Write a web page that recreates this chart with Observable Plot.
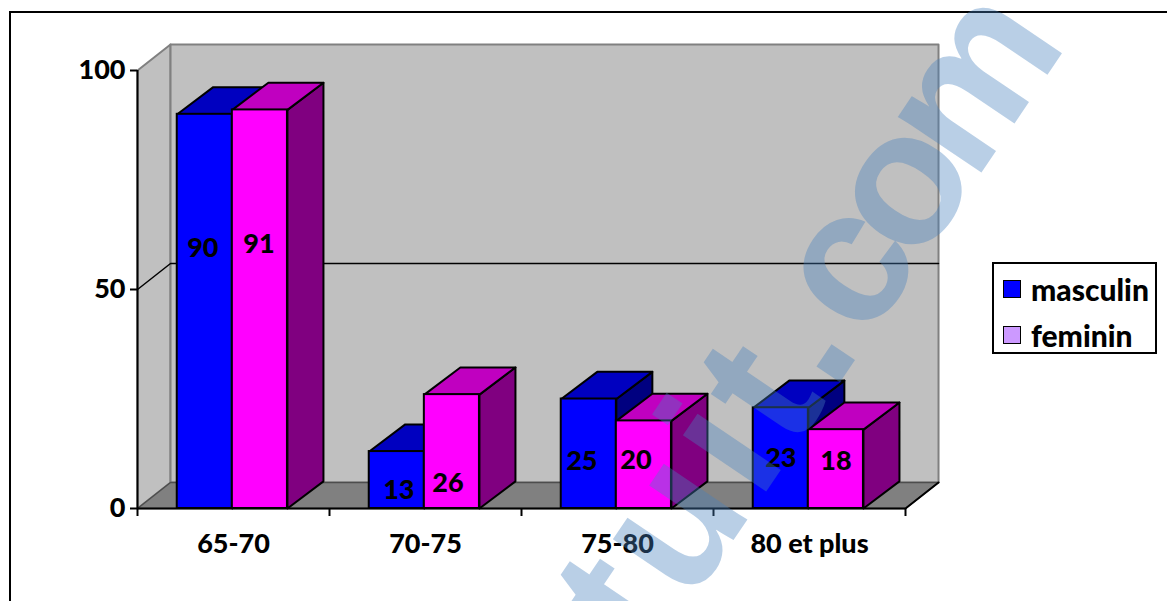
<!DOCTYPE html>
<html>
<head>
<meta charset="utf-8">
<script src="https://cdn.jsdelivr.net/npm/d3@7"></script>
<script src="https://cdn.jsdelivr.net/npm/@observablehq/plot@0.6"></script>
<style>
  html, body { margin: 0; padding: 0; background: #fff; }
  #page { position: relative; width: 1167px; height: 601px; overflow: hidden; font-family: Lato, sans-serif; font-weight: 900; color: #000; }
  #sheet { position: absolute; left: 9px; top: 11px; right: -4px; bottom: -4px; border: 2px solid #000; box-sizing: border-box; }
  #chart, #stamp { position: absolute; left: 0; top: 0; }
  #stamp { pointer-events: none; }
  #legend { position: absolute; left: 992px; top: 262px; width: 165px; height: 92px; box-sizing: border-box; border: 2px solid #000; background: #fff; }
  .row { position: absolute; left: 9px; display: flex; align-items: center; gap: 10px; font-size: 30px; line-height: 30px; height: 30px; }
  .swatch { width: 18px; height: 18px; box-sizing: border-box; border: 1.5px solid #000; flex: none; }
</style>
</head>
<body>
<div id="page">
  <div id="sheet"></div>
  <div id="chart"></div>
  <div id="legend"></div>
  <svg id="stamp" width="1167" height="601">
    <text transform="translate(1060 56) rotate(-56)" text-anchor="end" font-family="Liberation Sans" font-weight="700" font-size="190" fill="rgb(70,130,190)" fill-opacity="0.38"><tspan letter-spacing="8">tuit.</tspan><tspan letter-spacing="-15">com</tspan></text>
  </svg>
</div>
<script>
// Age groups and the two series
const categories = ["65-70", "70-75", "75-80", "80 et plus"];
const masculin = [90, 13, 25, 23];
const feminin = [91, 26, 20, 18];
const seriesNames = ["masculin", "feminin"];

// Oblique projection depth, in scale units (x in categories, y in percent)
const wallDepth = {x: 0.172, y: 5.94};
const barDepth = {x: 0.1875, y: 6.2};
const barStart = 0.207;
const barWidth = 0.287;

// Small shifts of each value label from the middle of its bar, in pixels
const labelShift = {
  masculin: [[-2, -63], [2, 10], [-7, 8], [0, 0]],
  feminin: [[-1, -65], [-4, 32], [-8, -4], [0, -8]]
};

const faceColors = {
  masculin: {front: "#0000ff", top: "#0000c0", side: "#000080"},
  feminin: {front: "#ff00ff", top: "#c000c0", side: "#800080"}
};
const legendColors = {masculin: "#0000ff", feminin: "#cc99ff"};

const bars = categories.flatMap((category, i) => [
  {series: "masculin", i, value: masculin[i], x1: i + barStart, x2: i + barStart + barWidth},
  {series: "feminin", i, value: feminin[i], x1: i + barStart + barWidth, x2: i + barStart + 2 * barWidth}
]);

// A closed polygon in data units, one record per corner
const polygon = (id, corners) => corners.map(([x, y]) => ({id, x, y}));
const face = (data, options) => Plot.line(data, {x: "x", y: "y", z: "id", curve: "linear-closed", ...options});

const d = wallDepth;
const leftWall = polygon("left", [[0, 0], [d.x, d.y], [d.x, 100 + d.y], [0, 100]]);
const backWall = polygon("back", [[d.x, d.y], [4 + d.x, d.y], [4 + d.x, 100 + d.y], [d.x, 100 + d.y]]);
const floor = polygon("floor", [[0, 0], [4, 0], [4 + d.x, d.y], [d.x, d.y]]);

const seriesMarks = seriesNames.flatMap((name) => {
  const rows = bars.filter((b) => b.series === name);
  const b = barDepth;
  const side = rows.flatMap((r) => polygon(r.i, [[r.x2, 0], [r.x2 + b.x, b.y], [r.x2 + b.x, r.value + b.y], [r.x2, r.value]]));
  const top = rows.flatMap((r) => polygon(r.i, [[r.x1, r.value], [r.x2, r.value], [r.x2 + b.x, r.value + b.y], [r.x1 + b.x, r.value + b.y]]));
  return [
    face(side, {fill: faceColors[name].side, stroke: "#000", strokeWidth: 2}),
    face(top, {fill: faceColors[name].top, stroke: "#000", strokeWidth: 2}),
    Plot.rect(rows, {x1: "x1", x2: "x2", y1: 0, y2: "value", fill: faceColors[name].front, stroke: "#000", strokeWidth: 2})
  ];
});

const labelMarks = bars.map((r) => {
  const [dx, dy] = labelShift[r.series][r.i];
  return Plot.text([r], {
    x: (t) => (t.x1 + t.x2) / 2,
    y: (t) => t.value / 2,
    text: (t) => String(t.value),
    dx, dy,
    fontSize: 27, fontWeight: 900, fill: "#000"
  });
});

const chart = Plot.plot({
  width: 1167,
  height: 601,
  marginLeft: 137,
  marginRight: 262,
  marginTop: 70,
  marginBottom: 93,
  style: {background: "transparent", fontFamily: "Lato, sans-serif", overflow: "visible"},
  x: {domain: [0, 4], axis: null},
  y: {domain: [0, 100], axis: null},
  marks: [
    face(leftWall, {fill: "#c0c0c0", stroke: "#808080", strokeWidth: 2}),
    face(backWall, {fill: "#c0c0c0", stroke: "#808080", strokeWidth: 2}),
    face(floor, {fill: "#808080", stroke: "#4d4d4d", strokeWidth: 1.5}),
    // Gridline at 50 runs along the left wall, then across the back wall
    Plot.line([{x: 0, y: 50}, {x: d.x, y: 50 + d.y}, {x: 4 + d.x, y: 50 + d.y}], {x: "x", y: "y", stroke: "#000", strokeWidth: 1.5}),
    Plot.line([{x: 4, y: 0}, {x: 4 + d.x, y: d.y}], {x: "x", y: "y", stroke: "#000", strokeWidth: 2}),
    ...seriesMarks,
    Plot.ruleY([0], {x1: 0, x2: 4, stroke: "#000", strokeWidth: 2}),
    Plot.ruleX([0], {y1: 0, y2: 100, stroke: "#000", strokeWidth: 2}),
    Plot.axisY({ticks: [0, 50, 100], tickSize: 7, tickPadding: 5, strokeWidth: 2, fontSize: 27, fontWeight: 900, fill: "#000", label: null}),
    Plot.axisX({ticks: [0, 1, 2, 3, 4], tickSize: 8, strokeWidth: 2, tickFormat: () => "", label: null}),
    Plot.axisX({ticks: categories.map((c, i) => i + 0.5), tickSize: 0, tickPadding: 25, tickFormat: (t) => categories[Math.floor(t)], fontSize: 27, fontWeight: 900, fill: "#000", label: null}),
    ...labelMarks
  ]
});
document.getElementById("chart").append(chart);

// Legend box to the right of the plot
const legend = document.getElementById("legend");
seriesNames.forEach((name, k) => {
  const row = document.createElement("div");
  row.className = "row";
  row.style.top = (10 + k * 46) + "px";
  const swatch = document.createElement("div");
  swatch.className = "swatch";
  swatch.style.background = legendColors[name];
  const label = document.createElement("span");
  label.textContent = name;
  row.append(swatch, label);
  legend.append(row);
});
</script>
</body>
</html>
